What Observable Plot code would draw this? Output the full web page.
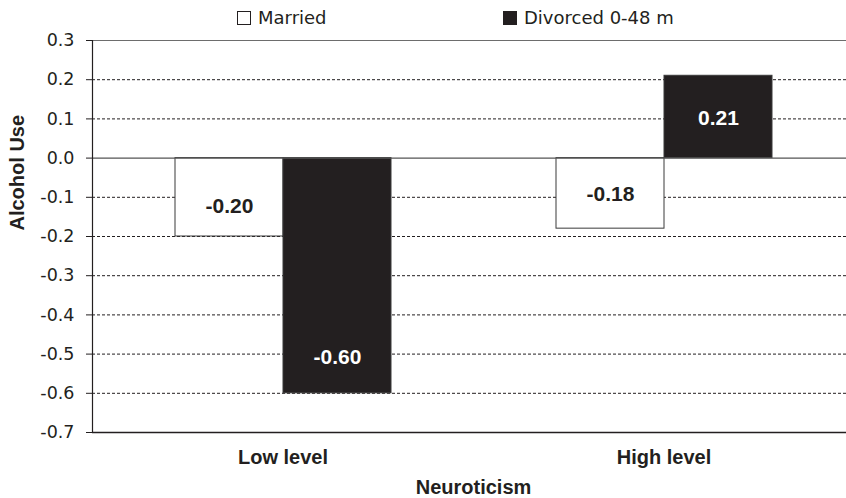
<!DOCTYPE html>
<html><head><meta charset="utf-8">
<script src="https://cdn.jsdelivr.net/npm/d3@7"></script>
<script src="https://cdn.jsdelivr.net/npm/@observablehq/plot@0.6"></script>
<style>
body{margin:0;background:#fff;}
#wrap{position:relative;width:846px;height:498px;overflow:hidden;}
#wrap svg{display:block;}
.item{position:absolute;top:7px;display:flex;align-items:center;white-space:nowrap;font-family:"DejaVu Sans";font-size:18px;color:#231f20;line-height:22px;}
.sw{display:inline-block;width:12px;height:12px;border:1px solid #231f20;margin-right:7px;box-sizing:content-box;}
</style></head><body>
<div id="wrap"></div>
<script>
const categories = ["Low level", "High level"];
const series = ["Married", "Divorced 0-48 m"];
const marriedValues = [-0.20, -0.18];
const divorcedValues = [-0.60, 0.21];
// where each value label sits (in data units)
const marriedLabelAt = [-0.122, -0.092];
const divorcedLabelAt = [-0.508, 0.102];
const yTicks = [0.3, 0.2, 0.1, 0.0, -0.1, -0.2, -0.3, -0.4, -0.5, -0.6, -0.7];
const xTitle = "Neuroticism";
const yTitle = "Alcohol Use";

const seriesColors = ["#ffffff", "#231f20"];

const rows = [];
categories.forEach((c, i) => {
  rows.push({category: c, series: series[0], value: marriedValues[i], labelAt: marriedLabelAt[i]});
  rows.push({category: c, series: series[1], value: divorcedValues[i], labelAt: divorcedLabelAt[i]});
});
const gridTicks = yTicks.filter(t => t !== yTicks[0] && t !== yTicks[yTicks.length - 1] && t !== 0);

const chart = Plot.plot({
  width: 846, height: 498,
  marginLeft: 92, marginRight: -8, marginTop: 40, marginBottom: 66,
  style: {fontFamily: "DejaVu Sans", fontSize: "17px", color: "#231f20", background: "transparent", overflow: "hidden"},
  fx: {domain: categories, padding: 0, label: null, axis: null},
  x: {domain: series, paddingInner: 0, paddingOuter: 0.756, axis: null},
  y: {domain: [yTicks[yTicks.length - 1], yTicks[0]], axis: null},
  color: {domain: series, range: seriesColors},
  marks: [
    Plot.gridY(gridTicks, {stroke: "#231f20", strokeOpacity: 1, strokeDasharray: "3,2", strokeWidth: 1}),
    Plot.ruleY([yTicks[0]], {stroke: "#6d6d6d", strokeWidth: 1.2}),
    Plot.barY(rows, {fx: "category", x: "series", y: "value", fill: "series", stroke: "#3a3a3a", strokeWidth: 1}),
    Plot.ruleY([0], {stroke: "#555555", strokeWidth: 1.2}),
    Plot.ruleY([yTicks[yTicks.length - 1]], {stroke: "#231f20", strokeWidth: 1.5}),
    Plot.frame({anchor: "left", facetAnchor: "left", stroke: "#231f20", strokeWidth: 1.2}),
    Plot.axisY({ticks: yTicks, tickFormat: d => d.toFixed(1), tickSize: 6, tickPadding: 12, fontSize: 17.5, label: null, stroke: "#231f20"}),
    Plot.text([yTitle], {frameAnchor: "left", facetAnchor: "left", rotate: -90, dx: -75, dy: -6, text: d => d, fontWeight: "bold", fontSize: 20, fontFamily: "Liberation Sans", fill: "#231f20"}),
    Plot.axisFx({anchor: "bottom", tickSize: 0, tickPadding: 17, fontWeight: "bold", fontSize: 20, fontFamily: "Liberation Sans", label: xTitle, labelAnchor: "center", labelOffset: 61}),
    Plot.text(rows.filter(d => d.series === series[0]), {fx: "category", x: "series", y: "labelAt", text: d => d.value.toFixed(2), fill: "#231f20", fontWeight: "bold", fontSize: 21, fontFamily: "Liberation Sans"}),
    Plot.text(rows.filter(d => d.series === series[1]), {fx: "category", x: "series", y: "labelAt", text: d => d.value.toFixed(2), fill: "#ffffff", fontWeight: "bold", fontSize: 21, fontFamily: "Liberation Sans"})
  ]
});
const wrap = document.getElementById("wrap");
wrap.appendChild(chart);

// legend
const legendLeft = [237, 503];
series.forEach((s, i) => {
  const item = document.createElement("div");
  item.className = "item";
  item.style.left = legendLeft[i] + "px";
  const sw = document.createElement("span");
  sw.className = "sw";
  sw.style.background = seriesColors[i];
  const t = document.createElement("span");
  t.textContent = s;
  item.appendChild(sw);
  item.appendChild(t);
  wrap.appendChild(item);
});
</script>
</body></html>
